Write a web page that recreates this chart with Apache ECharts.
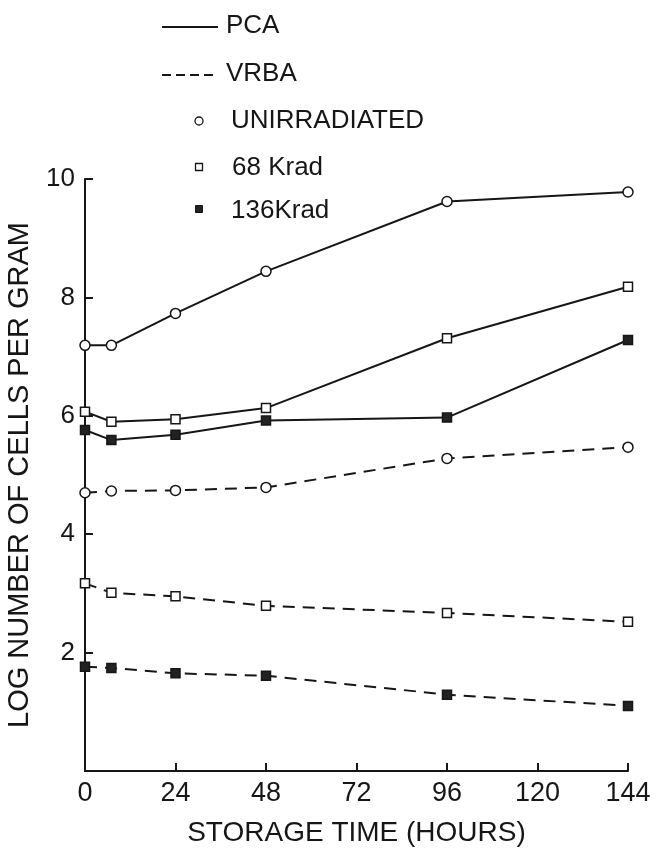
<!DOCTYPE html>
<html>
<head>
<meta charset="utf-8">
<script src="https://cdn.jsdelivr.net/npm/echarts@6/dist/echarts.min.js"></script>
<style>
html, body { margin: 0; padding: 0; background: #fff; }
#chartmain { width: 657px; height: 855px; }
</style>
</head>
<body>
<div id="chartmain"></div>
<script>
// storage time (hours) and log cells per gram
var hours = [0, 7, 24, 48, 96, 144];
var xTicks = [0, 24, 48, 72, 96, 120, 144];
var yTicks = [2, 4, 6, 8, 10];

var pcaUnirradiated = [7.19, 7.19, 7.73, 8.44, 9.62, 9.78];
var pca68 = [6.07, 5.90, 5.94, 6.13, 7.31, 8.18];
var pca136 = [5.76, 5.59, 5.68, 5.92, 5.97, 7.28];
var vrbaUnirradiated = [4.70, 4.73, 4.74, 4.79, 5.28, 5.47];
var vrba68 = [3.17, 3.01, 2.95, 2.79, 2.67, 2.52];
var vrba136 = [1.76, 1.74, 1.65, 1.61, 1.29, 1.10];

var ink = '#161616';
var font = 'Liberation Sans';
var dash = [12, 8];

function pairs(ys) {
    return hours.map(function (h, i) { return [h, ys[i]]; });
}

// one line per medium / dose
function makeSeries(name, ys, dashed, symbol, filled) {
    return {
        name: name,
        type: 'line',
        data: pairs(ys),
        symbol: symbol,
        symbolSize: symbol == 'circle' ? 10 : 9,
        showSymbol: true,
        lineStyle: { color: ink, width: 2, type: dashed ? dash : 'solid' },
        itemStyle: {
            color: filled ? '#222' : '#fff',
            borderColor: ink,
            borderWidth: 1.5
        },
        z: 3
    };
}

window.onload = function () {
    var option = {
        animation: false,
        backgroundColor: '#fff',
        grid: { left: 85, right: 29, top: 179, bottom: 84, outerBoundsMode: 'none' },
        xAxis: {
            type: 'value',
            min: 0, max: 144, interval: 24,
            name: 'STORAGE TIME (HOURS)',
            nameLocation: 'middle',
            nameGap: 48,
            nameTextStyle: { fontFamily: font, fontSize: 28, color: ink },
            axisLine: { lineStyle: { color: ink, width: 2 } },
            axisTick: { inside: true, length: 8, lineStyle: { color: ink, width: 2 } },
            axisLabel: {
                margin: 9, fontFamily: font, fontSize: 27, color: ink,
                formatter: function (v) { return xTicks.indexOf(v) >= 0 ? String(v) : ''; }
            },
            splitLine: { show: false }
        },
        yAxis: {
            type: 'value',
            min: 0, max: 10, interval: 2,
            name: 'LOG NUMBER OF CELLS PER GRAM',
            nameLocation: 'middle',
            nameGap: 51,
            nameTextStyle: { fontFamily: font, fontSize: 29, color: ink },
            axisLine: { show: true, lineStyle: { color: ink, width: 2 } },
            axisTick: { inside: true, length: 8, lineStyle: { color: ink, width: 2 } },
            axisLabel: {
                margin: 10, fontFamily: font, fontSize: 26, color: ink,
                formatter: function (v) { return yTicks.indexOf(v) >= 0 ? String(v) : ''; }
            },
            splitLine: { show: false }
        },
        series: [
            makeSeries('PCA UNIRRADIATED', pcaUnirradiated, false, 'circle', false),
            makeSeries('PCA 68 Krad', pca68, false, 'rect', false),
            makeSeries('PCA 136Krad', pca136, false, 'rect', true),
            makeSeries('VRBA UNIRRADIATED', vrbaUnirradiated, true, 'circle', false),
            makeSeries('VRBA 68 Krad', vrba68, true, 'rect', false),
            makeSeries('VRBA 136Krad', vrba136, true, 'rect', true)
        ],
        // key in the top left
        graphic: [
            { type: 'line', shape: { x1: 162, y1: 27, x2: 218, y2: 27 }, style: { stroke: ink, lineWidth: 2 } },
            { type: 'text', x: 226, y: 26, style: { text: 'PCA', font: '26px ' + font, fill: ink, verticalAlign: 'middle' } },
            { type: 'line', shape: { x1: 162, y1: 75, x2: 218, y2: 75 }, style: { stroke: ink, lineWidth: 2, lineDash: [9, 5] } },
            { type: 'text', x: 226, y: 74, style: { text: 'VRBA', font: '26px ' + font, fill: ink, verticalAlign: 'middle' } },
            { type: 'circle', shape: { cx: 199, cy: 121, r: 4 }, style: { fill: '#fff', stroke: ink, lineWidth: 1.3 } },
            { type: 'text', x: 231, y: 121, style: { text: 'UNIRRADIATED', font: '26px ' + font, fill: ink, verticalAlign: 'middle' } },
            { type: 'rect', shape: { x: 195.5, y: 163.5, width: 7, height: 7 }, style: { fill: '#fff', stroke: ink, lineWidth: 1.3 } },
            { type: 'text', x: 232, y: 168, style: { text: '68 Krad', font: '26px ' + font, fill: ink, verticalAlign: 'middle' } },
            { type: 'rect', shape: { x: 195.5, y: 205.5, width: 7, height: 7 }, style: { fill: '#222', stroke: ink, lineWidth: 1 } },
            { type: 'text', x: 231, y: 211, style: { text: '136Krad', font: '26px ' + font, fill: ink, verticalAlign: 'middle' } }
        ]
    };

    var myChart = echarts.init(document.getElementById('chartmain'));
    myChart.setOption(option);
};
</script>
</body>
</html>
